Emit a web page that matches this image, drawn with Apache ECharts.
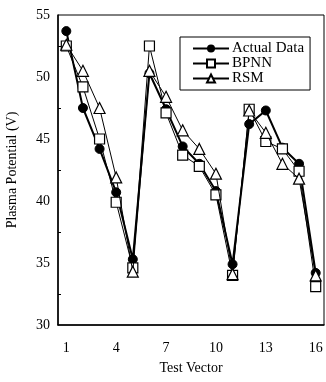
<!DOCTYPE html>
<html>
<head>
<meta charset="utf-8">
<script src="https://cdn.jsdelivr.net/npm/echarts@6/dist/echarts.min.js"></script>
<style>html,body{margin:0;padding:0;background:#fff}#c{width:326px;height:382px}</style>
</head>
<body>
<div id="c"></div>
<script>
const categories = ['1','2','3','4','5','6','7','8','9','10','11','12','13','14','15','16'];
const actualData = [53.7, 47.5, 44.2, 40.7, 35.3, 50.3, 47.4, 44.4, 43.0, 40.8, 34.9, 46.2, 47.3, 44.3, 43.0, 34.2];
const bpnnData   = [52.5, 49.2, 45.0, 39.9, 34.6, 52.5, 47.1, 43.7, 42.8, 40.5, 34.0, 47.4, 44.8, 44.2, 42.4, 33.1];
const rsmData    = [52.6, 50.5, 47.5, 41.9, 34.3, 50.5, 48.4, 45.7, 44.2, 42.2, 34.1, 47.3, 45.5, 43.0, 41.8, 34.0];
const seriesNames = ['Actual Data', 'BPNN', 'RSM'];

const font = 'Liberation Serif';
const chart = echarts.init(document.getElementById('c'), null, {renderer: 'canvas'});
chart.setOption({
  animation: false,
  backgroundColor: '#fff',
  grid: {left: 58, right: 2, top: 15, bottom: 57, show: true, borderColor: '#000', borderWidth: 1,
         containLabel: false, outerBoundsMode: 'none'},
  legend: {
    orient: 'vertical', left: 180, top: 37,
    padding: [4, 6, 4, 12], itemGap: 0, itemWidth: 36, itemHeight: 10,
    borderColor: '#000', borderWidth: 1, backgroundColor: '#fff',
    textStyle: {fontFamily: font, fontSize: 15, lineHeight: 15, color: '#000', padding: [0, 0, 0, -2]},
    data: seriesNames
  },
  xAxis: {
    type: 'category', data: categories, boundaryGap: true,
    name: 'Test Vector', nameLocation: 'middle', nameGap: 36,
    nameTextStyle: {fontFamily: font, fontSize: 14, color: '#000'},
    axisLine: {lineStyle: {color: '#000', width: 1.5}},
    axisTick: {inside: true, alignWithLabel: true, interval: 0, length: 4, lineStyle: {color: '#000'}},
    axisLabel: {interval: 2, fontFamily: font, fontSize: 14, color: '#000', margin: 16},
    splitLine: {show: false}
  },
  yAxis: {
    type: 'value', min: 30, max: 55, interval: 5,
    name: 'Plasma Potential (V)', nameLocation: 'middle', nameGap: 39,
    nameTextStyle: {fontFamily: font, fontSize: 14, color: '#000'},
    axisLine: {show: true, lineStyle: {color: '#000', width: 1.5}},
    axisTick: {inside: true, length: 4, lineStyle: {color: '#000'}},
    minorTick: {show: true, splitNumber: 2, length: 3, lineStyle: {color: '#000'}},
    axisLabel: {fontFamily: font, fontSize: 14, color: '#000', margin: 8},
    splitLine: {show: false}
  },
  series: [
    {name: seriesNames[0], type: 'line', data: actualData, symbol: 'circle', symbolSize: 9, showAllSymbol: true,
     lineStyle: {color: '#000', width: 2}, itemStyle: {color: '#000', borderColor: '#000'}, z: 2},
    {name: seriesNames[1], type: 'line', data: bpnnData, symbol: 'rect', symbolSize: 10, showAllSymbol: true,
     lineStyle: {color: '#000', width: 1}, itemStyle: {color: '#fff', borderColor: '#000', borderWidth: 1.2}, z: 3},
    {name: seriesNames[2], type: 'line', data: rsmData, symbol: 'triangle', symbolSize: 11, showAllSymbol: true,
     lineStyle: {color: '#000', width: 1}, itemStyle: {color: '#fff', borderColor: '#000', borderWidth: 1.2}, z: 4}
  ]
});
</script>
</body>
</html>
